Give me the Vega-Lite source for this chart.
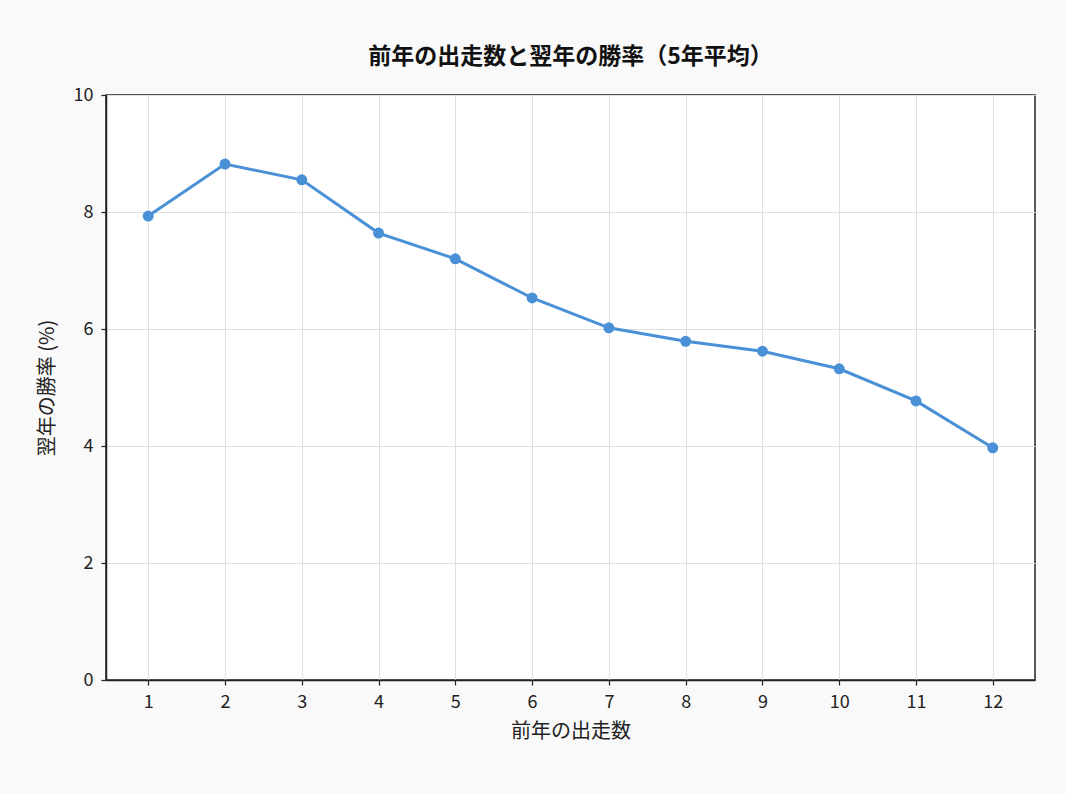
{
  "$schema": "https://vega.github.io/schema/vega-lite/v6.json",
  "width": 929,
  "height": 585,
  "autosize": "none",
  "padding": {"left": 106, "top": 95, "right": 30, "bottom": 114},
  "background": "#f9f9f9",
  "title": {
    "text": "前年の出走数と翌年の勝率（5年平均）",
    "font": "Noto Sans CJK JP",
    "fontSize": 23,
    "fontWeight": "bold",
    "color": "#111111",
    "offset": 17
  },
  "data": {
    "values": [
      {"runs": 1, "win": 7.93},
      {"runs": 2, "win": 8.82},
      {"runs": 3, "win": 8.55},
      {"runs": 4, "win": 7.64},
      {"runs": 5, "win": 7.2},
      {"runs": 6, "win": 6.53},
      {"runs": 7, "win": 6.02},
      {"runs": 8, "win": 5.79},
      {"runs": 9, "win": 5.62},
      {"runs": 10, "win": 5.32},
      {"runs": 11, "win": 4.77},
      {"runs": 12, "win": 3.97}
    ]
  },
  "mark": {
    "type": "line",
    "color": "#4a90d6",
    "strokeWidth": 3,
    "point": {"filled": true, "size": 120, "color": "#4a90d6"}
  },
  "encoding": {
    "x": {
      "field": "runs",
      "type": "quantitative",
      "title": "前年の出走数",
      "scale": {"domain": [0.45, 12.55], "nice": false, "zero": false},
      "axis": {"values": [1, 2, 3, 4, 5, 6, 7, 8, 9, 10, 11, 12], "format": "d"}
    },
    "y": {
      "field": "win",
      "type": "quantitative",
      "title": "翌年の勝率 (%)",
      "scale": {"domain": [0, 10], "nice": false},
      "axis": {"values": [0, 2, 4, 6, 8, 10]}
    }
  },
  "config": {
    "view": {"stroke": "#222222", "strokeWidth": 1.5, "fill": "#ffffff"},
    "axis": {
      "labelFont": "Noto Sans CJK JP",
      "titleFont": "Noto Sans CJK JP",
      "labelFontSize": 18,
      "titleFontSize": 20,
      "titleFontWeight": "normal",
      "labelColor": "#222222",
      "titleColor": "#222222",
      "domainColor": "#222222",
      "domainWidth": 1.5,
      "tickColor": "#222222",
      "tickSize": 5,
      "tickWidth": 1.2,
      "labelPadding": 8,
      "gridColor": "#e0e0e0",
      "gridWidth": 1
    },
    "axisX": {"titlePadding": 10},
    "axisY": {"titlePadding": 16}
  }
}
